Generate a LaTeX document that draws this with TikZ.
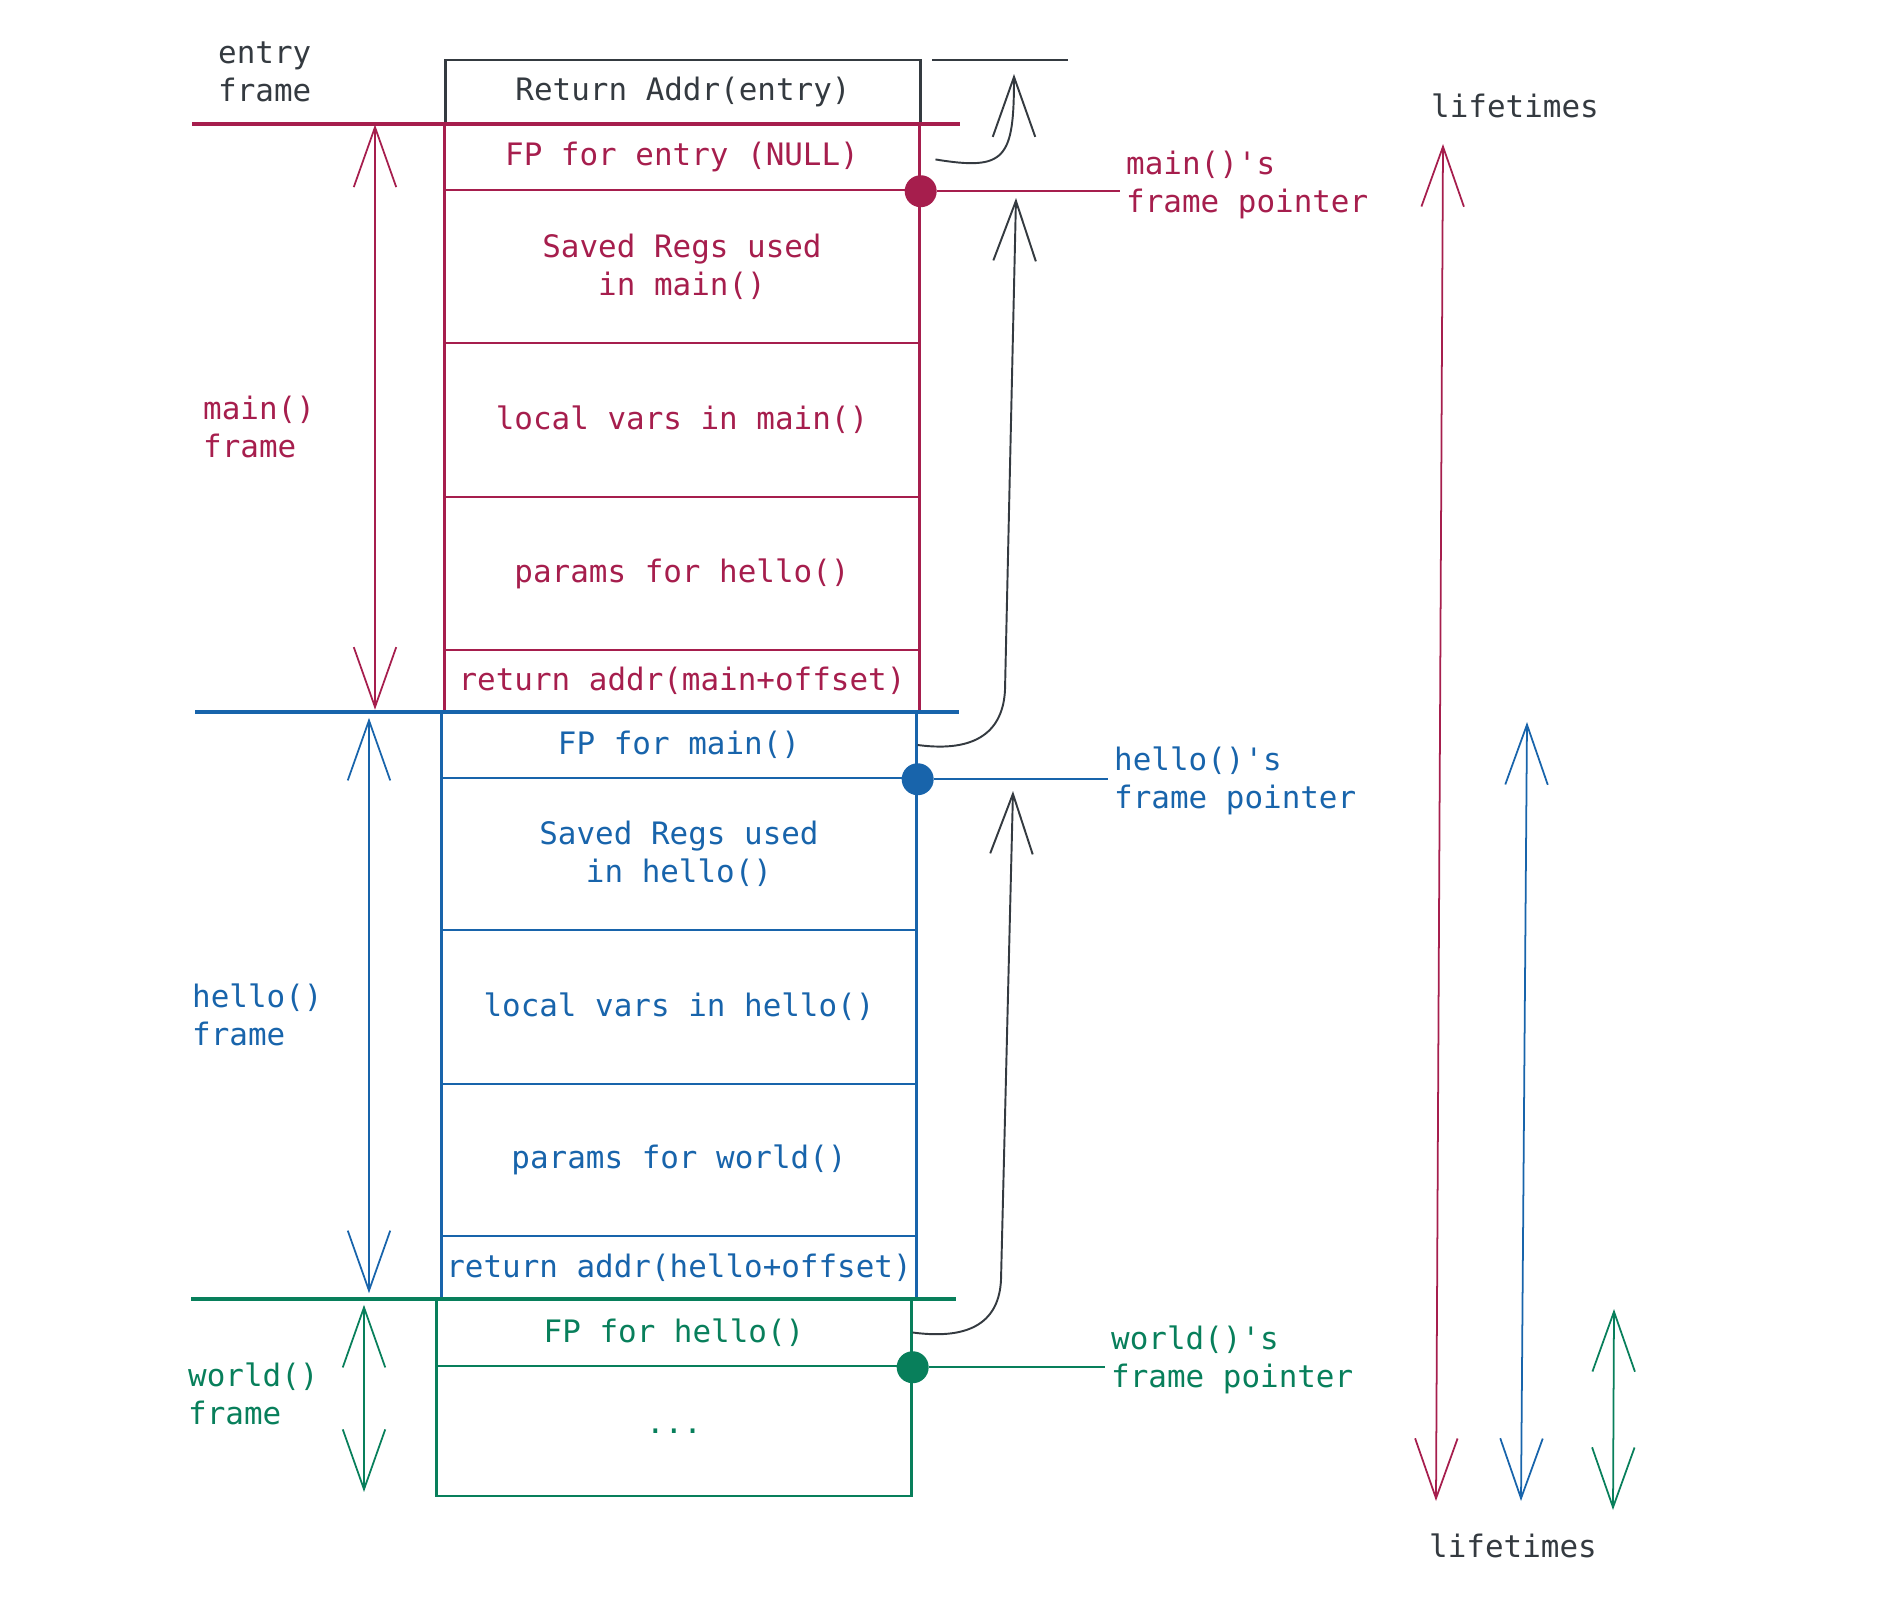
\documentclass[tikz,border=0pt]{standalone}
\usepackage{fontspec}
\newfontfamily\codefont{DejaVu Sans Mono}
\usetikzlibrary{arrows.meta}
\definecolor{ink}{HTML}{343A40}
\definecolor{mainc}{HTML}{A61E4D}
\definecolor{helloc}{HTML}{1864AB}
\definecolor{worldc}{HTML}{087F5B}
\newcommand\codetext{\codefont\fontsize{17.6pt}{21.5pt}\selectfont}

\begin{document}
\begin{tikzpicture}[x=0.02cm, y=-0.02cm, >={Straight Barb[length=1.2cm,width=0.85cm]},
  cellbox/.style={draw=#1, text=#1, line width=1.4pt, minimum width=9.5cm,
                  inner sep=0pt, align=center, font=\codetext},
  divider/.style={draw=#1, line width=2.6pt},
  fpdot/.style={circle, fill=#1, inner sep=0pt, minimum size=0.64cm},
  sidelabel/.style={text=#1, align=left, anchor=west, font=\codetext},
  extent/.style={draw=#1, line width=1pt, <->},
  fplink/.style={draw=ink, line width=1.1pt, ->}]
\useasboundingbox (0,0) rectangle (1886,1596);

% stack cells
\foreach \nm/\x/\y/\c/\h/\t in {
  retentry/683/92/ink/64/{Return Addr(entry)},
  fpentry/682/157/mainc/66/{FP for entry (NULL)},
  regsmain/682/266.5/mainc/153/{Saved Regs used\\in main()},
  localsmain/682/420/mainc/154/{local vars in main()},
  paramshello/682/573.5/mainc/153/{params for hello()},
  retmain/682/681/mainc/62/{return addr(main+offset)},
  fpmain/679/745/helloc/66/{FP for main()},
  regshello/679/854/helloc/152/{Saved Regs used\\in hello()},
  localshello/679/1007/helloc/154/{local vars in hello()},
  paramsworld/679/1160/helloc/152/{params for world()},
  rethello/679/1267.5/helloc/63/{return addr(hello+offset)},
  fphello/674/1332.5/worldc/67/{FP for hello()},
  dotsworld/674/1431/worldc/130/{...}}
  \node[cellbox=\c, minimum height=\h*0.02cm] (\nm) at (\x,\y) {\t};

% frame borders
\draw[divider=mainc] (192,124) -- (960,124);
\draw[divider=helloc] (195,712) -- (959,712);
\draw[divider=worldc] (191,1299) -- (956,1299);
\draw[ink, line width=1.4pt] (932,60) -- (1068,60);

% frame names
\node[sidelabel=ink] (entryname) at (212,72) {entry\\frame};
\node[sidelabel=mainc] (mainname) at (197,427) {main()\\frame};
\node[sidelabel=helloc] (helloname) at (186,1015) {hello()\\frame};
\node[sidelabel=worldc] (worldname) at (182,1394) {world()\\frame};

% frame extents
\coordinate (mainspan) at (375,0);
\coordinate (hellospan) at (369,0);
\coordinate (worldspan) at (364,0);
\draw[extent=mainc, shorten <=1pt, shorten >=2pt] (fpentry.north -| mainspan) -- (retmain.south -| mainspan);
\draw[extent=helloc, shorten <=4pt, shorten >=4pt] (fpmain.north -| hellospan) -- (rethello.south -| hellospan);
\draw[extent=worldc, shorten <=4pt, shorten >=3pt] (fphello.north -| worldspan) -- (dotsworld.south -| worldspan);

% frame pointers
\node[sidelabel=mainc] (mainfp) at (1120,185) {main()'s\\frame pointer};
\node[sidelabel=helloc] (hellofp) at (1108,781) {hello()'s\\frame pointer};
\node[sidelabel=worldc] (worldfp) at (1105,1360) {world()'s\\frame pointer};
\node[fpdot=mainc] (maindot) at (fpentry.south east) {};
\node[fpdot=helloc] (hellodot) at (fpmain.south east) {};
\node[fpdot=worldc] (worlddot) at (fphello.south east) {};
\draw[mainc, line width=1.4pt] (maindot) -- (maindot -| mainfp.west);
\draw[helloc, line width=1.4pt] (hellodot) -- (hellodot -| hellofp.west);
\draw[worldc, line width=1.4pt] (worlddot) -- (worlddot -| worldfp.west);

% saved FP links
\coordinate (entrytip) at (1014,74);
\coordinate (mainbend) at (1005,690);
\coordinate (maintip) at (1016,198);
\coordinate (hellobend) at (1001,1280);
\coordinate (hellotip) at (1013,791);
\draw[fplink, shorten <=0.3cm] (fpentry.east) .. controls +(85,14) and +(0,85) .. (entrytip);
\draw[fplink] (fpmain.east) .. controls +(60,8) and +(-2,40) .. (mainbend) -- (maintip);
\draw[fplink] (fphello.east) .. controls +(60,8) and +(-2,40) .. (hellobend) -- (hellotip);

% lifetimes
\node[text=ink, font=\codetext] (lifetop) at (1515,106) {lifetimes};
\node[text=ink, font=\codetext] (lifebot) at (1513,1546) {lifetimes};
\coordinate (mainlife1) at (1443,144);
\coordinate (mainlife2) at (1436,1501);
\coordinate (hellolife1) at (1527,722);
\coordinate (hellolife2) at (1521,1501);
\coordinate (worldlife1) at (1614,1309);
\coordinate (worldlife2) at (1613,1510);
\draw[extent=mainc] (mainlife1) -- (mainlife2);
\draw[extent=helloc] (hellolife1) -- (hellolife2);
\draw[extent=worldc] (worldlife1) -- (worldlife2);
\end{tikzpicture}
\end{document}
